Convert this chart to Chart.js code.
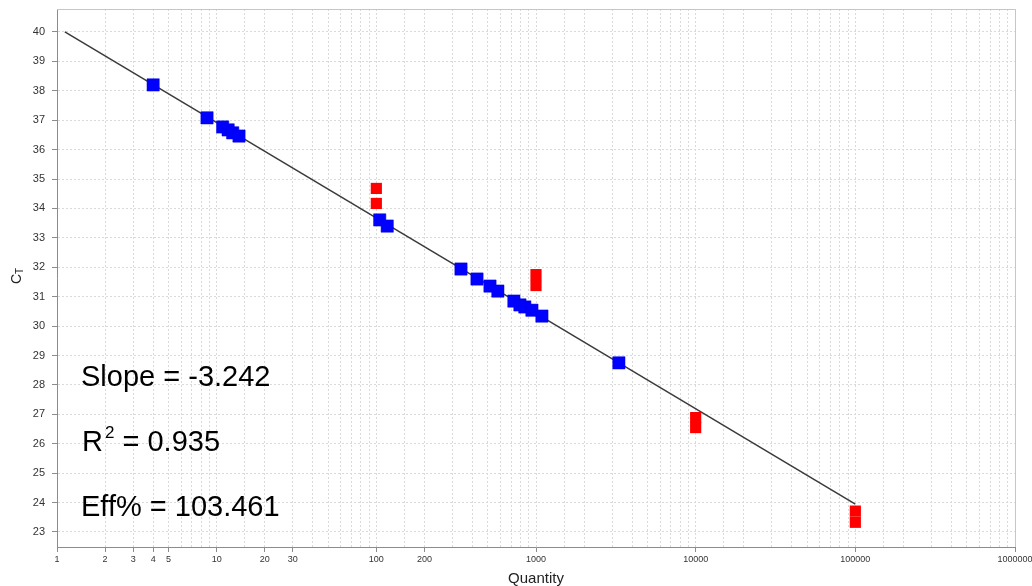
<!DOCTYPE html>
<html>
<head>
<meta charset="utf-8">
<title>Standard curve</title>
<script src="https://cdn.jsdelivr.net/npm/chart.js@4.4.1/dist/chart.umd.min.js"></script>
<style>
  html, body { margin: 0; padding: 0; background: #fff; }
</style>
</head>
<body>
<canvas id="curve" width="1032" height="586"></canvas>
<script>
// standards (blue)
const stdQuantity = [4, 8.7, 10.9, 11.8, 12.6, 13.8, 105, 117, 339, 427, 515, 577, 727, 793, 851, 943, 1089, 3304];
const stdCt = [38.20, 37.08, 36.77, 36.67, 36.57, 36.46, 33.61, 33.40, 31.94, 31.60, 31.36, 31.19, 30.85, 30.72, 30.65, 30.54, 30.34, 28.75];

// samples (red)
const unkQuantity = [100, 100, 1000, 1000, 10000, 10000, 100000, 100000];
const unkCt = [34.68, 34.17, 31.75, 31.38, 26.89, 26.55, 23.71, 23.33];

// regression line
const slope = -3.242;
const intercept = 40.16;
const fitQuantity = [1.12, 100000];

const xTickLabels = [1, 2, 3, 4, 5, 10, 20, 30, 100, 200, 1000, 10000, 100000, 1000000];
const statLines = ['Slope = -3.242', '0.935', 'Eff% = 103.461'];

const FONT = "'Liberation Sans', Arial, Helvetica, sans-serif";

const toPoints = (xs, ys) => xs.map((x, i) => ({ x: x, y: ys[i] }));
const fitPoints = fitQuantity.map(q => ({ x: q, y: intercept + slope * Math.log10(q) }));

const isLabelled = v => xTickLabels.some(t => Math.abs(t - v) / t < 1e-6);

// fixed axis boxes, no extra label padding around the plot
const fixBox = size => scale => {
    if (scale.isHorizontal()) scale.height = size;
    else scale.width = size;
    scale.paddingLeft = scale.paddingRight = scale.paddingTop = scale.paddingBottom = 0;
};

const extras = {
    id: 'extras',
    beforeDatasetsDraw(chart) {
        const { ctx, chartArea: a } = chart;
        ctx.save();
        ctx.strokeStyle = '#c6c6c6';
        ctx.lineWidth = 1;
        ctx.beginPath();
        ctx.moveTo(a.left, a.top + 0.5);
        ctx.lineTo(a.right + 0.5, a.top + 0.5);
        ctx.lineTo(a.right + 0.5, a.bottom);
        ctx.stroke();
        ctx.restore();
    },
    afterDraw(chart) {
        const ctx = chart.ctx;
        ctx.save();
        ctx.fillStyle = '#000';
        ctx.textBaseline = 'alphabetic';
        ctx.textAlign = 'left';

        ctx.font = '29px ' + FONT;
        ctx.fillText(statLines[0], 81, 386);

        // R squared with superscript
        let x = 82;
        ctx.fillText('R', x, 451);
        x += ctx.measureText('R').width + 2;
        ctx.font = '17px ' + FONT;
        ctx.fillText('2', x, 438);
        x += ctx.measureText('2').width;
        ctx.font = '29px ' + FONT;
        ctx.fillText(' = ' + statLines[1], x, 451);

        ctx.fillText(statLines[2], 81, 516);

        // y axis title C with subscript T
        ctx.fillStyle = '#222';
        ctx.translate(17, 277);
        ctx.rotate(-Math.PI / 2);
        ctx.textBaseline = 'middle';
        ctx.font = '14px ' + FONT;
        ctx.fillText('C', -7, 0);
        const cw = ctx.measureText('C').width;
        ctx.font = '10px ' + FONT;
        ctx.fillText('T', -7 + cw, 3);
        ctx.restore();
    }
};

new Chart(document.getElementById('curve'), {
    type: 'scatter',
    data: {
        datasets: [{
            label: 'Standards',
            data: toPoints(stdQuantity, stdCt),
            pointStyle: 'rect',
            pointRadius: 8.7,
            backgroundColor: '#0000ff',
            borderColor: '#0000dd',
            borderWidth: 0.5
        }, {
            label: 'Samples',
            data: toPoints(unkQuantity, unkCt),
            pointStyle: 'rect',
            pointRadius: 7.9,
            backgroundColor: '#ff0000',
            borderColor: '#ff0000',
            borderWidth: 0
        }, {
            label: 'Fit',
            data: fitPoints,
            showLine: true,
            pointRadius: 0,
            borderColor: '#3a3a3a',
            borderWidth: 1.5
        }]
    },
    options: {
        responsive: false,
        animation: false,
        layout: {
            autoPadding: false,
            padding: { top: 9, right: 17, left: 0, bottom: 0 }
        },
        plugins: {
            legend: { display: false },
            tooltip: { enabled: false }
        },
        scales: {
            x: {
                type: 'logarithmic',
                min: 1,
                max: 1000000,
                afterFit: fixBox(39),
                border: { color: '#8c8c8c', width: 1, dash: [2, 2] },
                grid: {
                    color: '#dadada',
                    tickLength: 5,
                    tickColor: c => (c.tick && isLabelled(c.tick.value)) ? '#8c8c8c' : 'rgba(0,0,0,0)'
                },
                ticks: {
                    autoSkip: false,
                    maxRotation: 0,
                    padding: 2,
                    color: '#333',
                    font: { size: 9, family: FONT },
                    callback: v => isLabelled(v) ? String(v) : ''
                },
                title: {
                    display: true,
                    text: 'Quantity',
                    color: '#222',
                    font: { size: 15, family: FONT, lineHeight: 1 },
                    padding: { top: 0, bottom: 0 }
                }
            },
            y: {
                min: 22.49,
                max: 40.78,
                afterFit: fixBox(57),
                border: { color: '#8c8c8c', width: 1, dash: [2, 2] },
                grid: { color: '#dadada', tickLength: 5, tickColor: '#8c8c8c' },
                ticks: {
                    stepSize: 1,
                    includeBounds: false,
                    padding: 7,
                    color: '#333',
                    font: { size: 11, family: FONT }
                }
            }
        }
    },
    plugins: [extras]
});
</script>
</body>
</html>
